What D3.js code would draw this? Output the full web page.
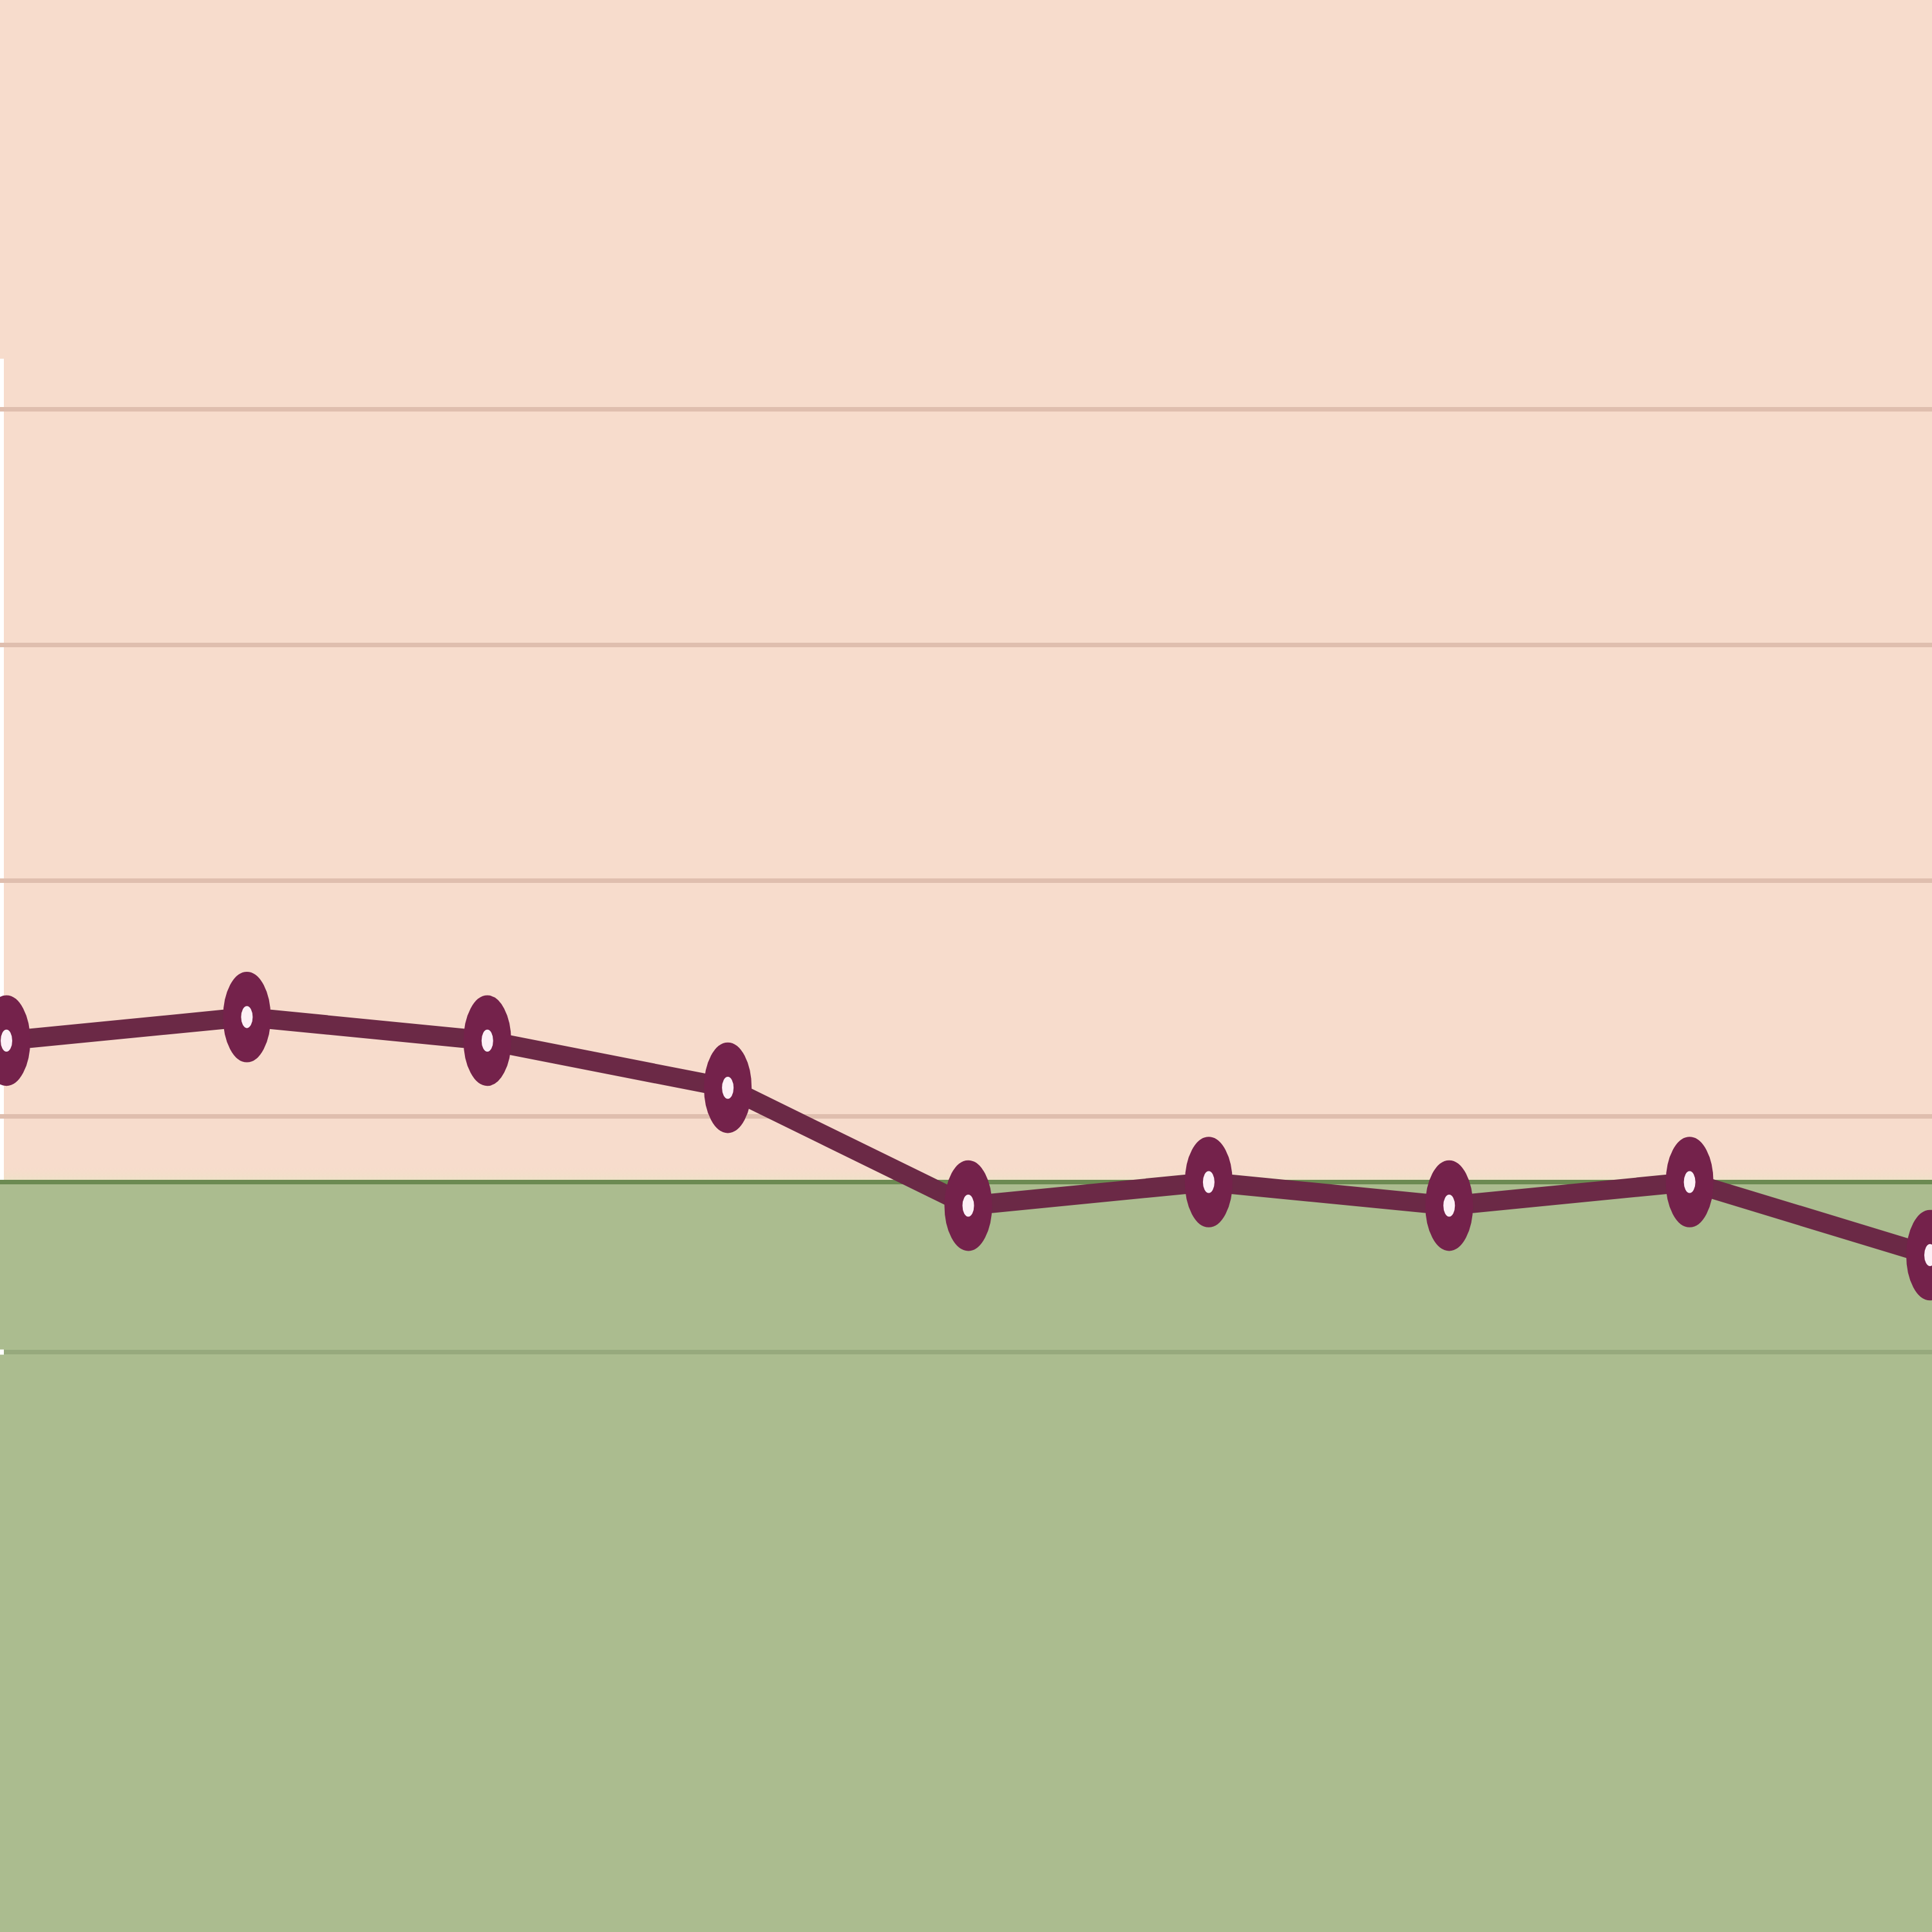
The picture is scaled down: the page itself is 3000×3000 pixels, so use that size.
<!DOCTYPE html>
<html>
<head>
<meta charset="utf-8">
<script src="https://cdn.jsdelivr.net/npm/d3@7"></script>
<style>
  html, body { margin: 0; padding: 0; background: #ffffff; }
  svg { display: block; }
</style>
</head>
<body>
<div id="root"></div>
<script>
// data
const categories = ["1", "2", "3", "4", "5", "6", "7", "8", "9"];
const values = [53.2, 54.2, 53.2, 51.2, 46.2, 47.2, 46.2, 47.2, 44.1];
const gridValues = [40, 50, 60, 70, 80];
const threshold = [47.2];

const w = 3000;
const h = 3000;
// the original picture is stretched vertically: shapes in the
// squashed group get k times taller than wide
const k = 1.9;

const svg = d3.select("#root")
    .append("svg")
    .attr("width", w)
    .attr("height", h);

const x = d3.scalePoint()
    .domain(categories)
    .range([10, 2997]);

const y = d3.scaleLinear()
    .domain([40, 80])
    .range([2099, 635]);

const defs = svg.append("defs");
const grad = defs.append("linearGradient")
    .attr("id", "cream")
    .attr("x1", 0).attr("y1", 0)
    .attr("x2", 0).attr("y2", 1);
grad.append("stop").attr("offset", "0%").attr("stop-color", "#f5dccb").attr("stop-opacity", 0);
grad.append("stop").attr("offset", "100%").attr("stop-color", "#ece3c6").attr("stop-opacity", 1);

// zones above and below the target
svg.append("rect")
    .attr("x", 0).attr("y", 0)
    .attr("width", w)
    .attr("height", y(threshold[0]))
    .attr("fill", "#f7dccc");

svg.append("rect")
    .attr("x", 0)
    .attr("y", y(threshold[0]) - 24)
    .attr("width", w)
    .attr("height", 24)
    .attr("fill", "url(#cream)");

svg.append("rect")
    .attr("x", 0)
    .attr("y", y(threshold[0]))
    .attr("width", w)
    .attr("height", h - y(threshold[0]))
    .attr("fill", "#abbc8f");

// thin white strip on the left edge
svg.append("rect")
    .attr("x", 0)
    .attr("y", y(80) - 78)
    .attr("width", 6)
    .attr("height", y(threshold[0]) - y(80) + 78)
    .attr("fill", "#ffffff");

// grid
const grid = svg.append("g")
    .attr("class", "grid")
    .call(d3.axisLeft(y)
        .tickValues(gridValues)
        .tickSizeInner(-w)
        .tickSizeOuter(0)
        .tickFormat(""));
grid.select(".domain").remove();
grid.selectAll(".tick line")
    .attr("stroke", d => d > threshold[0] ? "#dfbeae" : "#97a97d")
    .attr("stroke-width", 7);

grid.selectAll(".tick")
    .filter(d => d < threshold[0])
    .append("rect")
    .attr("x", 0)
    .attr("y", -4)
    .attr("width", 6)
    .attr("height", 8)
    .attr("fill", "#ffffff");

// target line
svg.selectAll("line.target")
    .data(threshold)
    .enter()
    .append("line")
    .attr("class", "target")
    .attr("x1", 0)
    .attr("x2", w)
    .attr("y1", d => y(d))
    .attr("y2", d => y(d))
    .attr("stroke", "#6c8a52")
    .attr("stroke-width", 7);

// series
const line = d3.line()
    .x((d, i) => x(categories[i]))
    .y(d => y(d));

svg.append("path")
    .datum(values)
    .attr("fill", "none")
    .attr("stroke", "#6b2946")
    .attr("stroke-width", 30)
    .attr("stroke-linejoin", "round")
    .attr("d", line);

const dots = svg.append("g")
    .attr("transform", `scale(1,${k})`);

dots.selectAll("circle.pt")
    .data(values)
    .enter()
    .append("circle")
    .attr("class", "pt")
    .attr("cx", (d, i) => x(categories[i]))
    .attr("cy", d => y(d) / k)
    .attr("r", 23)
    .attr("fill", "#fdf0f6")
    .attr("stroke", "#74224b")
    .attr("stroke-width", 28);
</script>
</body>
</html>
